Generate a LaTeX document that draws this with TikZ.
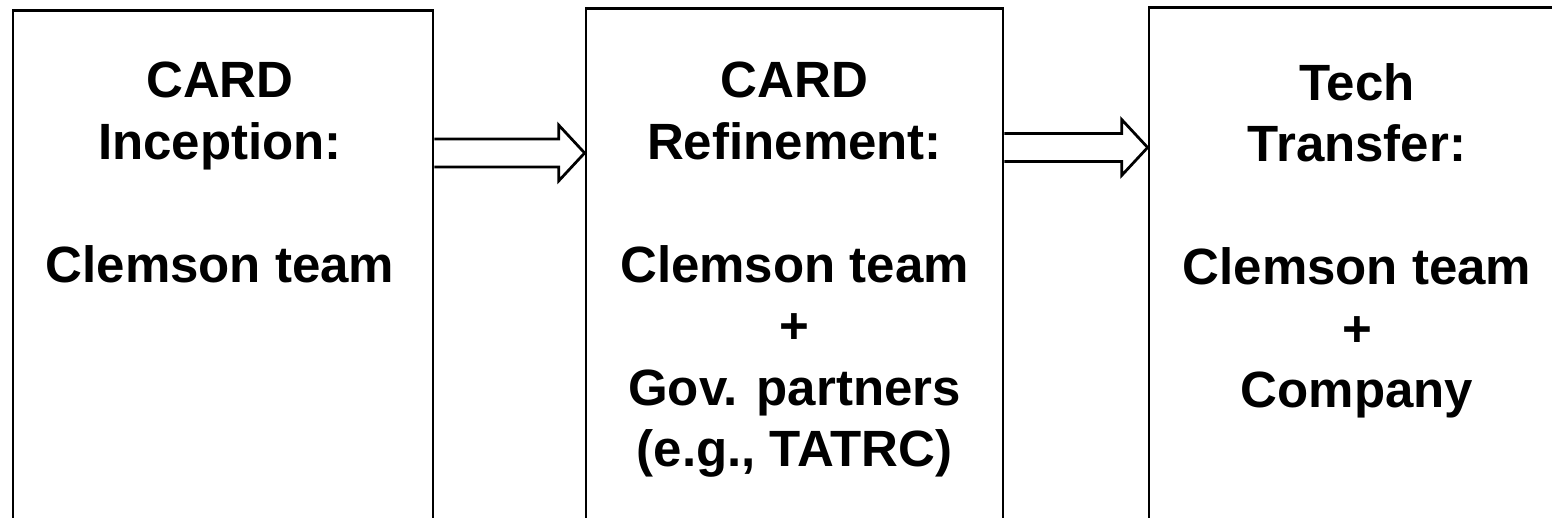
\documentclass[tikz,border=0pt]{standalone}
\usepackage{fontspec}
\setmainfont{Liberation Sans}
\usetikzlibrary{calc,positioning}
\newcommand{\stagefont}{\bfseries\fontsize{51}{61.5}\selectfont}
\tikzset{
    stage box/.style={draw,line width=2.75pt,anchor=north,inner sep=0pt,minimum height=640pt},
    stage text/.style={align=center,inner sep=0pt,font=\stagefont},
    flow arrow/.style={draw,line width=2.75pt,line join=miter}
}

\begin{document}
\begin{tikzpicture}[x=1pt,y=1pt]
    \clip (0,0) rectangle (1552,-518);

    \node[stage box,minimum width=420pt] (inception) at (223,-9) {};
    \node[stage box,minimum width=417pt] (refine) at (794.5,-7) {};
    \node[stage box,minimum width=416pt] (transfer) at (1357,-6) {};

    \node[stage text] (t1) [below=53pt of inception.north,xshift=-3pt] {CARD\\Inception:\\[61.5pt]Clemson team};
    \node[stage text] (t2) [below=55pt of refine.north] {CARD\\Refinement:\\[61.5pt]Clemson team\\+\\Gov. partners\\(e.g., TATRC)};
    \node[stage text] (t3) [below=57pt of transfer.north] {Tech\\Transfer:\\[61.5pt]Clemson team\\+\\Company};

    \foreach \from/\to/\y in {inception/refine/-153,refine/transfer/-147.5}{
        \coordinate (tip) at (\to.west |- 0,\y);
        \draw[flow arrow] ($(\from.east |- tip)+(0,14)$) -- ($(tip)+(-26,14)$) -- ($(tip)+(-26,28)$)
            -- (tip) -- ($(tip)+(-26,-28)$) -- ($(tip)+(-26,-14)$) -- ($(\from.east |- tip)+(0,-14)$);
    }
\end{tikzpicture}
\end{document}
